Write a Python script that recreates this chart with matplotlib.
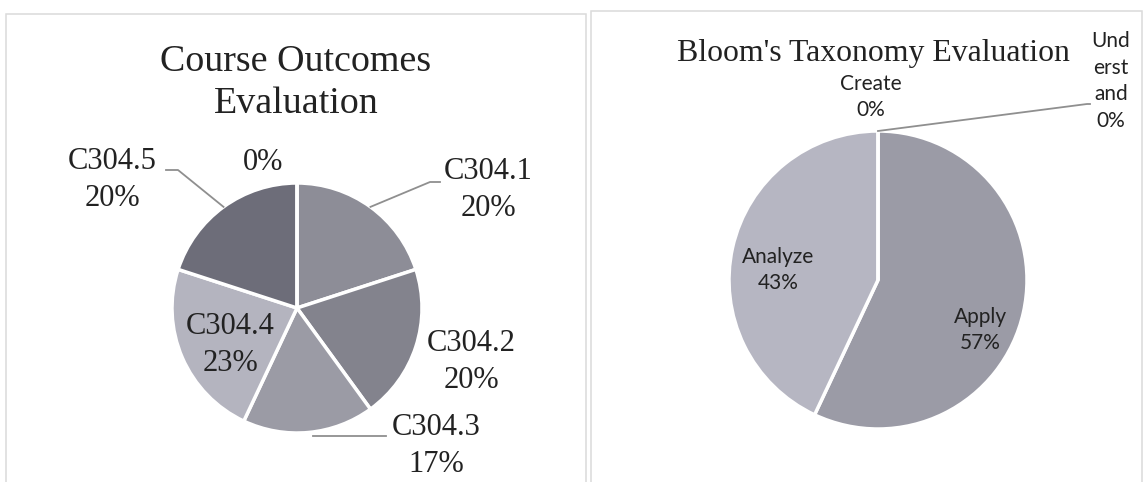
import matplotlib
matplotlib.use('Agg')
import matplotlib.pyplot as plt
import numpy as np
from matplotlib.patches import Rectangle

W, H = 1147, 482

# ---- data ----
co_labels = ['C304.1', 'C304.2', 'C304.3', 'C304.4', 'C304.5', '']
co_values = [20, 20, 17, 23, 20, 0]
co_colors = ['#8d8d97', '#83838d', '#9b9ba5', '#b4b4bf', '#6d6d79', '#a0a0a8']

bt_labels = ['Understand', 'Apply', 'Analyze', 'Create']
bt_values = [0, 57, 43, 0]
bt_colors = ['#8a8a94', '#9b9ba6', '#b6b6c2', '#a8a8b2']

SERIF = 'Liberation Serif'
SANS = 'Lato'
TXT = '#222222'

fig = plt.figure(figsize=(W / 100, H / 100), dpi=100)
ax = fig.add_axes([0, 0, 1, 1])


def Y(y):
    return H - y


# chart boxes
ax.add_patch(Rectangle((6, Y(492)), 580, 478, fill=False, ec='#dadada', lw=1.1))
ax.add_patch(Rectangle((591, Y(492)), 551, 481, fill=False, ec='#dadada', lw=1.1))

# ---- left pie ----
c1 = (297, Y(308))
r1 = 125
w1, _ = ax.pie(co_values, colors=co_colors, startangle=90, counterclock=False,
               center=c1, radius=r1, frame=True,
               wedgeprops=dict(edgecolor='white', linewidth=2.5))


def edge(w, c, r, extra=0):
    a = np.deg2rad((w.theta1 + w.theta2) / 2)
    return c[0] + (r + extra) * np.cos(a), c[1] + (r + extra) * np.sin(a)


pct1 = [f'{v:.0f}%' for v in co_values]
lab_pos1 = [(488, 190), (471, 362), (436, 446), (230, 345), (112, 180), (263, 163)]
for lbl, p, (x, y) in zip(co_labels, pct1, lab_pos1):
    s = f'{lbl}\n{p}' if lbl else p
    ax.text(x, Y(y), s, ha='center', va='center', fontsize=22, family=SERIF,
            color=TXT, linespacing=1.33)

lc = '#8f8f8f'
# leader lines (from wedge edge to the label)
ex, ey = edge(w1[0], c1, r1)
ax.plot([ex, 430, 440], [ey, Y(182), Y(182)], color=lc, lw=1.3)
ex, ey = edge(w1[4], c1, r1)
ax.plot([ex, 178, 166], [ey, Y(170), Y(170)], color=lc, lw=1.3)
ex, ey = edge(w1[2], c1, r1)
ax.plot([ex + 4, 386], [ey - 4, ey - 4], color=lc, lw=1.3)

ax.text(296, Y(83), 'Course Outcomes\nEvaluation', ha='center', va='center',
        fontsize=27.4, family=SERIF, color=TXT, linespacing=1.27)

# ---- right pie ----
c2 = (878, Y(280))
r2 = 149
w2, _ = ax.pie(bt_values, colors=bt_colors, startangle=90, counterclock=False,
               center=c2, radius=r2, frame=True,
               wedgeprops=dict(edgecolor='white', linewidth=2.5))

pct2 = [f'{v:.0f}%' for v in bt_values]
bt_disp = ['Und\nerst\nand', 'Apply', 'Analyze', 'Create']
lab_pos2 = [(1111, 81), (980, 330), (778, 270), (871, 97)]
for lbl, p, (x, y) in zip(bt_disp, pct2, lab_pos2):
    ax.text(x, Y(y), f'{lbl}\n{p}', ha='center', va='center', fontsize=15,
            family=SANS, color=TXT, linespacing=1.43)

ex, ey = edge(w2[0], c2, r2)
ax.plot([ex, 1087, 1090], [ey, Y(104), Y(104)], color=lc, lw=1.3)

ax.text(873, Y(54), "Bloom's Taxonomy Evaluation", ha='center', va='center',
        fontsize=22.9, family=SERIF, color=TXT)

ax.set_xlim(0, W)
ax.set_ylim(0, H)
ax.set_aspect('auto')
ax.axis('off')

fig.savefig('out.png', dpi=100, facecolor='white')
